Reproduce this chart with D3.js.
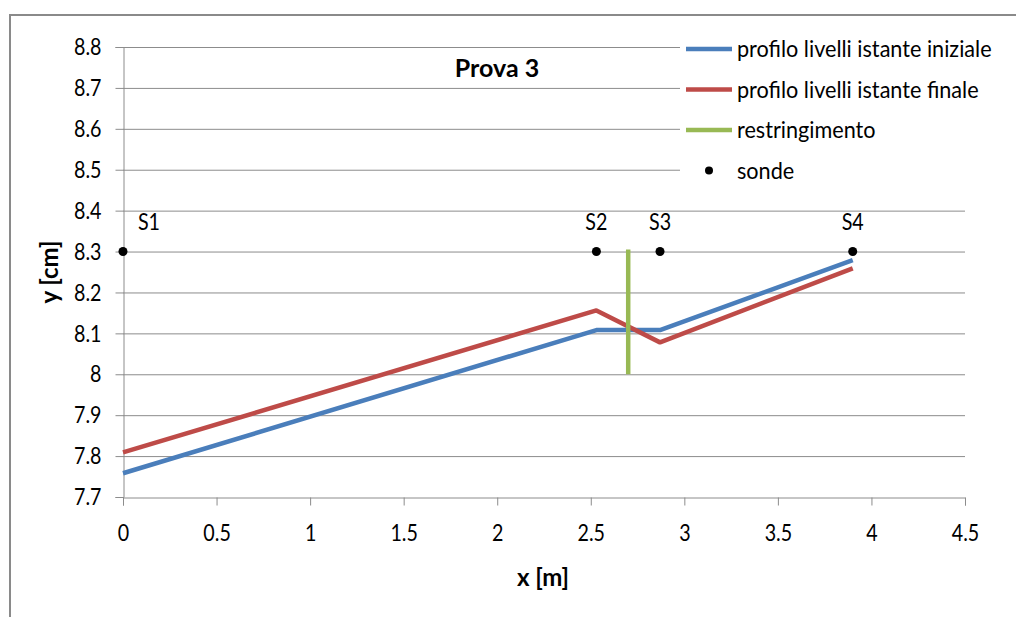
<!DOCTYPE html>
<html>
<head>
<meta charset="utf-8">
<script src="https://cdn.jsdelivr.net/npm/d3@7/dist/d3.min.js"></script>
<style>
  body { margin: 0; background: #fff; }
  text { font-family: Lato, "Liberation Sans", sans-serif; fill: #000; }
</style>
</head>
<body>
<div id="chart"></div>
<script>
/** Data */
const xPoints = [0, 2.53, 2.87, 3.9];
const initialLevels = [7.758, 8.108, 8.108, 8.279];
const finalLevels = [7.809, 8.156, 8.078, 8.259];
const constrictionX = [2.7, 2.7];
const constrictionY = [8.0, 8.305];
const probeNames = ["S1", "S2", "S3", "S4"];
const probeX = [0, 2.53, 2.87, 3.9];
const probeY = [8.3, 8.3, 8.3, 8.3];
const xTicks = [0, 0.5, 1, 1.5, 2, 2.5, 3, 3.5, 4, 4.5];
const yTicks = [7.7, 7.8, 7.9, 8, 8.1, 8.2, 8.3, 8.4, 8.5, 8.6, 8.7, 8.8];
const seriesNames = [
  "profilo livelli istante iniziale",
  "profilo livelli istante finale",
  "restringimento",
  "sonde",
];
const colors = ["#4a7ebb", "#be4b48", "#98b954", "#000"];

/** Graph configs */
const W = 1016, H = 617;
const plot = { left: 123, right: 965, top: 47, bottom: 497 };
const fs = 24;

// squeeze Lato a bit so it looks closer to the narrow original font
const condense = (sel, k) =>
  sel.each(function () {
    const w = this.getComputedTextLength();
    d3.select(this).attr("textLength", w * k).attr("lengthAdjust", "spacingAndGlyphs");
  });

const svg = d3.select("#chart").append("svg")
  .attr("width", W).attr("height", H);

// outer frame (cropped at right and bottom)
svg.append("rect")
  .attr("x", 10).attr("y", 15)
  .attr("width", 1100).attr("height", 700)
  .attr("fill", "none").attr("stroke", "#8a8a8a").attr("stroke-width", 2);

const x = d3.scaleLinear().domain([0, 4.5]).range([plot.left, plot.right]);
const y = d3.scaleLinear().domain([7.7, 8.8]).range([plot.bottom, plot.top]);

/** Gridlines */
svg.append("g").selectAll("line")
  .data(yTicks.slice(1))
  .join("line")
  .attr("x1", plot.left).attr("x2", plot.right)
  .attr("y1", d => y(d) + 0.5).attr("y2", d => y(d) + 0.5)
  .attr("stroke", "#8c8c8c").attr("stroke-width", 1);

/** Axes */
const fmt = d => (d === 0 ? "0" : String(+d.toFixed(1)));
const xAxis = svg.append("g")
  .attr("transform", `translate(0,${plot.bottom + 0.5})`)
  .call(d3.axisBottom(x).tickValues(xTicks).tickFormat(fmt).tickSize(8).tickPadding(18));
const yAxis = svg.append("g")
  .attr("transform", `translate(${plot.left + 0.5},0)`)
  .call(d3.axisLeft(y).tickValues(yTicks).tickFormat(fmt).tickSize(8).tickPadding(14));
[xAxis, yAxis].forEach(g => {
  g.select(".domain").attr("stroke", "#8c8c8c");
  g.selectAll(".tick line").attr("stroke", "#8c8c8c");
  g.selectAll("text").attr("font-size", fs).attr("font-family", null).attr("fill", "#000")
    .call(condense, 0.82);
});

/** Lines */
const line = d3.line().x(d => x(d[0])).y(d => y(d[1]));
const lineData = [
  d3.zip(xPoints, initialLevels),
  d3.zip(xPoints, finalLevels),
  d3.zip(constrictionX, constrictionY),
];
svg.append("g").selectAll("path")
  .data(lineData)
  .join("path")
  .attr("d", line)
  .attr("fill", "none")
  .attr("stroke", (d, i) => colors[i])
  .attr("stroke-width", 4.5)
  .attr("stroke-linejoin", "round");

/** Probes */
const probes = d3.zip(probeNames, probeX, probeY);
svg.append("g").selectAll("circle")
  .data(probes)
  .join("circle")
  .attr("cx", d => x(d[1])).attr("cy", d => y(d[2]))
  .attr("r", 4.5).attr("fill", "#000");
svg.append("g").selectAll("text")
  .data(probes)
  .join("text")
  .attr("x", d => x(d[1]) + (d[1] === 0 ? 26 : 0))
  .attr("y", d => y(d[2]) - 22)
  .attr("text-anchor", "middle")
  .attr("font-size", fs)
  .text(d => d[0])
  .call(condense, 0.82);

/** Legend */
const legend = svg.append("g");
legend.append("rect")
  .attr("x", 680).attr("y", 30).attr("width", 330).attr("height", 165)
  .attr("fill", "#fff");
const items = legend.selectAll("g")
  .data(seriesNames)
  .join("g")
  .attr("transform", (d, i) => `translate(686,${49 + i * 40.5})`);
items.filter((d, i) => i < 3).append("line")
  .attr("x1", 0).attr("x2", 46)
  .attr("stroke", (d, i) => colors[i]).attr("stroke-width", 4.5);
items.filter((d, i) => i === 3).append("circle")
  .attr("cx", 23).attr("r", 4).attr("fill", "#000");
items.append("text")
  .attr("x", 51).attr("dy", "0.35em")
  .attr("font-size", 23)
  .text(d => d)
  .call(condense, 0.94);

/** Titles */
svg.append("text")
  .attr("x", 497).attr("y", 77)
  .attr("text-anchor", "middle")
  .attr("font-size", 25).attr("font-weight", "bold")
  .text("Prova 3");
svg.append("text")
  .attr("x", 543).attr("y", 586)
  .attr("text-anchor", "middle")
  .attr("font-size", fs).attr("font-weight", "bold")
  .text("x [m]");
svg.append("text")
  .attr("transform", "translate(58,272) rotate(-90)")
  .attr("text-anchor", "middle")
  .attr("font-size", fs).attr("font-weight", "bold")
  .text("y [cm]");
</script>
</body>
</html>
